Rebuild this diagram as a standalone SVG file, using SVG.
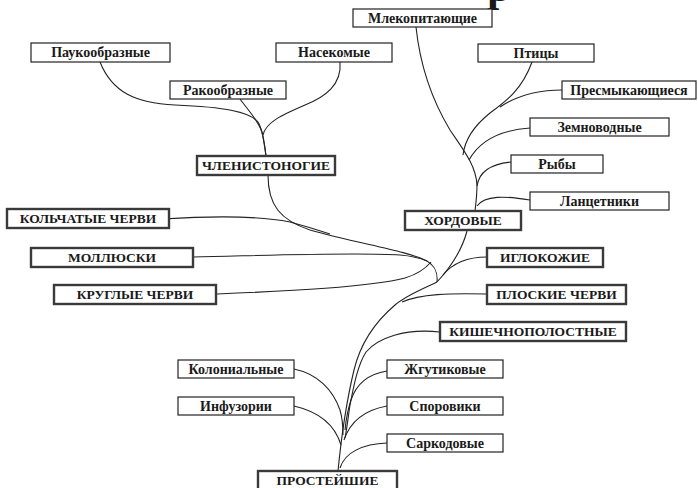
<svg xmlns="http://www.w3.org/2000/svg" width="698" height="488" viewBox="0 0 698 488">
<style>
  text { font-family: "Liberation Serif", "Times New Roman", serif; font-weight: bold; font-size: 14px; fill: #1a1a1a; text-anchor: middle; }
  .caps { font-size: 13.5px; }
  .thin { fill: #fff; stroke: #222; stroke-width: 1.2; }
  .thick { fill: #fff; stroke: #3a3a3a; stroke-width: 2.4; }
  .con path { fill: none; stroke: #222; stroke-width: 1.1; }
  .title { font-size: 44px; text-anchor: start; }
</style>
<rect width="698" height="488" fill="#fff"/>
<text class="title" x="487" y="1">р</text>

<g class="con" id="connectors">
  <path d="M100,62 C112,92 135,103 175,105 C225,107 250,112 258,122 C262,128 264,140 266,156"/>
  <path d="M240,99 C248,110 258,120 262,132 C264,140 265,148 266,156"/>
  <path d="M340,62 C342,85 325,97 305,105 C282,115 266,122 263,135"/>
  <path d="M268,175 C268,205 280,220 310,230 C360,244 408,251 427,261 C435,266 438,272 437,282"/>
  <path d="M163,219 C210,216 255,215 290,222 C305,226 318,230 330,234"/>
  <path d="M193,257 C280,255 360,252 400,255 C412,256 420,258 427,261"/>
  <path d="M217,294 C290,291 370,287 405,278 C418,274 426,268 431,262"/>
  <path d="M416,27 C420,65 432,100 450,130 C462,148 476,165 477,185 C477,195 476,203 475,211"/>
  <path d="M532,62 C522,90 505,102 490,113 C475,125 465,138 463,155"/>
  <path d="M562,90 C535,90 515,97 500,107"/>
  <path d="M530,128 C500,130 480,140 469,160"/>
  <path d="M511,162 C490,164 479,172 477,186"/>
  <path d="M530,200 C505,196 485,195 477,206"/>
  <path d="M467,231 C462,250 450,268 437,282"/>
  <path d="M487,257 C465,257 452,264 443,275"/>
  <path d="M437,282 C420,290 405,296 395,305 C375,322 360,345 354,370 C348,395 342,430 338,471"/>
  <path d="M487,294 C450,293 420,294 402,302"/>
  <path d="M440,332 C405,328 378,338 366,352 C357,366 353,390 350,405 C348,418 347,428 345,438"/>
  <path d="M387,371 C368,374 356,385 351,400 C347,412 346,420 345,430"/>
  <path d="M294,369 C318,374 333,390 340,410 C343,420 343,428 343,435"/>
  <path d="M387,406 C365,410 350,422 344,440"/>
  <path d="M294,406 C320,412 335,425 341,445"/>
  <path d="M387,443 C363,444 345,452 340,468"/>
</g>

<g id="mlekopitayushchie"><rect class="thin" x="353" y="9" width="139" height="18"/><text x="422.5" y="22.5">Млекопитающие</text></g>
<g id="paukoobraznye"><rect class="thin" x="31" y="43" width="139" height="19"/><text x="100.5" y="57">Паукообразные</text></g>
<g id="nasekomye"><rect class="thin" x="276" y="43" width="116" height="19"/><text x="334" y="57">Насекомые</text></g>
<g id="ptitsy"><rect class="thin" x="478" y="44" width="116" height="18"/><text x="536" y="57.5">Птицы</text></g>
<g id="rakoobraznye"><rect class="thin" x="170" y="81" width="116" height="18"/><text x="228" y="94.5">Ракообразные</text></g>
<g id="presmykayushchiesya"><rect class="thin" x="562" y="81" width="134" height="18"/><text x="629" y="94.5">Пресмыкающиеся</text></g>
<g id="zemnovodnye"><rect class="thin" x="530" y="118" width="139" height="18"/><text x="599.5" y="131.5">Земноводные</text></g>
<g id="chlenistonogie"><rect class="thick" x="197" y="156" width="138" height="19"/><text class="caps" x="266" y="170">ЧЛЕНИСТОНОГИЕ</text></g>
<g id="ryby"><rect class="thin" x="511" y="155" width="92" height="18"/><text x="557" y="168.5">Рыбы</text></g>
<g id="lantsetniki"><rect class="thin" x="530" y="192" width="139" height="18"/><text x="599.5" y="205.5">Ланцетники</text></g>
<g id="khordovye"><rect class="thick" x="405" y="211" width="116" height="19"/><text class="caps" x="463" y="225">ХОРДОВЫЕ</text></g>
<g id="kolchatye"><rect class="thick" x="7" y="209" width="162" height="19"/><text class="caps" x="88" y="223">КОЛЬЧАТЫЕ ЧЕРВИ</text></g>
<g id="mollyuski"><rect class="thick" x="31" y="248" width="162" height="19"/><text class="caps" x="112" y="262">МОЛЛЮСКИ</text></g>
<g id="kruglye"><rect class="thick" x="54" y="285" width="162" height="19"/><text class="caps" x="135" y="299">КРУГЛЫЕ ЧЕРВИ</text></g>
<g id="iglokozhie"><rect class="thick" x="487" y="248" width="116" height="19"/><text class="caps" x="545" y="262">ИГЛОКОЖИЕ</text></g>
<g id="ploskie"><rect class="thick" x="487" y="285" width="139" height="19"/><text class="caps" x="556.5" y="299">ПЛОСКИЕ ЧЕРВИ</text></g>
<g id="kishechnopolostnye"><rect class="thick" x="440" y="322" width="186" height="19"/><text class="caps" x="533" y="336">КИШЕЧНОПОЛОСТНЫЕ</text></g>
<g id="kolonialnye"><rect class="thin" x="178" y="360" width="116" height="18"/><text x="236" y="373.5">Колониальные</text></g>
<g id="zhgutikovye"><rect class="thin" x="387" y="360" width="116" height="18"/><text x="445" y="373.5">Жгутиковые</text></g>
<g id="infuzorii"><rect class="thin" x="178" y="397" width="116" height="18"/><text x="236" y="410.5">Инфузории</text></g>
<g id="sporoviki"><rect class="thin" x="387" y="397" width="116" height="18"/><text x="445" y="410.5">Споровики</text></g>
<g id="sarkodovye"><rect class="thin" x="387" y="434" width="116" height="18"/><text x="445" y="447.5">Саркодовые</text></g>
<g id="prosteyshie"><rect class="thick" x="258" y="471" width="139" height="20"/><text class="caps" x="327.5" y="485">ПРОСТЕЙШИЕ</text></g>
</svg>
